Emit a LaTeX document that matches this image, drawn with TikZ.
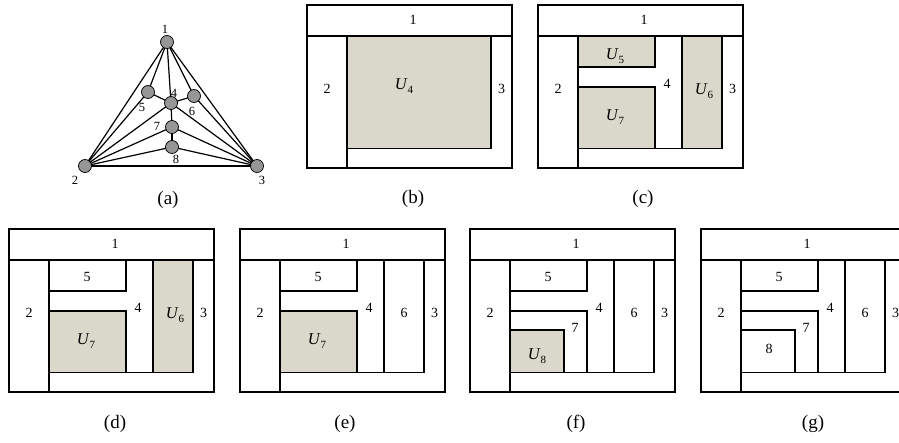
\documentclass[tikz,border=0pt]{standalone}
\usepackage{fontspec}
\setmainfont{Liberation Serif}

\definecolor{shade}{RGB}{218,216,203}
\definecolor{vtx}{RGB}{150,150,150}

\tikzset{
  frame/.style={line width=2.7pt},
  wall/.style={line width=1.6pt},
  region/.style={fill=shade},
  lbl/.style={font=\fontsize{14}{16}\selectfont, inner sep=0pt},
  ulbl/.style={font=\fontsize{16.5}{18}\selectfont, inner sep=0pt},
  caption/.style={font=\fontsize{19}{21}\selectfont, inner sep=0pt},
  vertex/.style={circle, fill=vtx, draw=black, line width=0.7pt,
                 minimum size=13pt, inner sep=0pt},
  edge/.style={line width=1.2pt},
  vlbl/.style={font=\fontsize{12.5}{14}\selectfont, inner sep=0pt},
}

% U with an upright lowered index
\newcommand\regU[1]{\textit{U}\raisebox{-3.5pt}{\fontsize{11}{12}\selectfont #1}}

% outer frame, top band, left column, right column and bottom strip
\newcommand\basegrid{%
  \draw[wall] (0,31) -- (205,31);
  \draw[wall] (40,31) -- (40,163);
  \draw[wall] (40,143.5) -- (184,143.5) -- (184,31);
  \draw[frame] (0,0) rectangle (205,163);
}
% column 4 and the walls of regions 5 and 7
\newcommand\innerwalls{%
  \draw[wall] (144,31) -- (144,143.5);
  \draw[wall] (40,62) -- (117,62) -- (117,31);
  \draw[wall] (40,82) -- (117,82) -- (117,143.5);
}
% walls of region 8
\newcommand\eightwalls{%
  \draw[wall] (40,101) -- (94,101) -- (94,143.5);
}

\begin{document}
\begin{tikzpicture}[x=1pt, y=-1pt]
\useasboundingbox (0,0) rectangle (899,442);
\clip (0,0) rectangle (899,442);

% ---------------- (a) the graph ----------------
\coordinate (p1) at (167,42);
\coordinate (p2) at (85,166);
\coordinate (p3) at (257,166);
\coordinate (p4) at (171,103);
\coordinate (p5) at (148,92);
\coordinate (p6) at (194,96);
\coordinate (p7) at (172,127);
\coordinate (p8) at (172,147);
\foreach \a/\b in {1/2,1/3,1/5,1/4,1/6,2/5,2/4,2/7,2/8,2/3,
                   3/6,3/4,3/7,3/8,4/5,4/6,4/7,7/8}
  \draw[edge] (p\a) -- (p\b);
\foreach \i in {1,...,8}
  \node[vertex] (v\i) at (p\i) {};
\node[vlbl] (l1) at (165,29) {1};
\node[vlbl] (l2) at (75,180) {2};
\node[vlbl] (l3) at (262,180) {3};
\node[vlbl] (l4) at (174,93) {4};
\node[vlbl] (l5) at (142,107) {5};
\node[vlbl] (l6) at (192,111) {6};
\node[vlbl] (l7) at (157,126) {7};
\node[vlbl] (l8) at (176,159) {8};
\node[caption] (ca) at (168,200) {(a)};

% ---------------- (b) ----------------
\begin{scope}[shift={(307,5)}]
  \fill[region] (40,31) rectangle (184,143.5);
  \basegrid
  \node[lbl] (b1) at (106,15) {1};
  \node[lbl] (b2) at (20,84) {2};
  \node[lbl] (b3) at (194.5,84) {3};
  \node[ulbl] (bU4) at (97,81) {\regU{4}};
\end{scope}
\node[caption] (cb) at (413,199) {(b)};

% ---------------- (c) ----------------
\begin{scope}[shift={(538,5)}]
  \fill[region] (40,31) rectangle (117,62);
  \fill[region] (40,82) rectangle (117,143.5);
  \fill[region] (144,31) rectangle (184,143.5);
  \innerwalls
  \basegrid
  \node[lbl] (c1) at (106,15) {1};
  \node[lbl] (c2) at (20,84) {2};
  \node[lbl] (c3) at (194.5,84) {3};
  \node[lbl] (c4) at (129,79) {4};
  \node[ulbl] (cU5) at (77,51) {\regU{5}};
  \node[ulbl] (cU7) at (77,112) {\regU{7}};
  \node[ulbl] (cU6) at (166,86) {\regU{6}};
\end{scope}
\node[caption] (cc) at (643,199) {(c)};

% ---------------- (d) ----------------
\begin{scope}[shift={(9,229)}]
  \fill[region] (40,82) rectangle (117,143.5);
  \fill[region] (144,31) rectangle (184,143.5);
  \innerwalls
  \basegrid
  \node[lbl] (d1) at (106,15) {1};
  \node[lbl] (d2) at (20,84) {2};
  \node[lbl] (d3) at (194.5,84) {3};
  \node[lbl] (d4) at (129,79) {4};
  \node[lbl] (d5) at (78,48) {5};
  \node[ulbl] (dU7) at (77,112) {\regU{7}};
  \node[ulbl] (dU6) at (166,86) {\regU{6}};
\end{scope}
\node[caption] (cd) at (115,424) {(d)};

% ---------------- (e) ----------------
\begin{scope}[shift={(240,229)}]
  \fill[region] (40,82) rectangle (117,143.5);
  \innerwalls
  \basegrid
  \node[lbl] (e1) at (106,15) {1};
  \node[lbl] (e2) at (20,84) {2};
  \node[lbl] (e3) at (194.5,84) {3};
  \node[lbl] (e4) at (129,79) {4};
  \node[lbl] (e5) at (78,48) {5};
  \node[lbl] (e6) at (164,84) {6};
  \node[ulbl] (eU7) at (77,112) {\regU{7}};
\end{scope}
\node[caption] (ce) at (345,424) {(e)};

% ---------------- (f) ----------------
\begin{scope}[shift={(470,229)}]
  \fill[region] (40,101) rectangle (94,143.5);
  \innerwalls
  \eightwalls
  \basegrid
  \node[lbl] (f1) at (106,15) {1};
  \node[lbl] (f2) at (20,84) {2};
  \node[lbl] (f3) at (194.5,84) {3};
  \node[lbl] (f4) at (129,79) {4};
  \node[lbl] (f5) at (78,48) {5};
  \node[lbl] (f6) at (164,84) {6};
  \node[lbl] (f7) at (105,99) {7};
  \node[ulbl] (fU8) at (67,127) {\regU{8}};
\end{scope}
\node[caption] (cf) at (576,424) {(f)};

% ---------------- (g) ----------------
\begin{scope}[shift={(701,229)}]
  \innerwalls
  \eightwalls
  \basegrid
  \node[lbl] (g1) at (106,15) {1};
  \node[lbl] (g2) at (20,84) {2};
  \node[lbl] (g3) at (194.5,84) {3};
  \node[lbl] (g4) at (129,79) {4};
  \node[lbl] (g5) at (78,48) {5};
  \node[lbl] (g6) at (164,84) {6};
  \node[lbl] (g7) at (105,99) {7};
  \node[lbl] (g8) at (68,120) {8};
\end{scope}
\node[caption] (cg) at (813,424) {(g)};
\end{tikzpicture}
\end{document}
